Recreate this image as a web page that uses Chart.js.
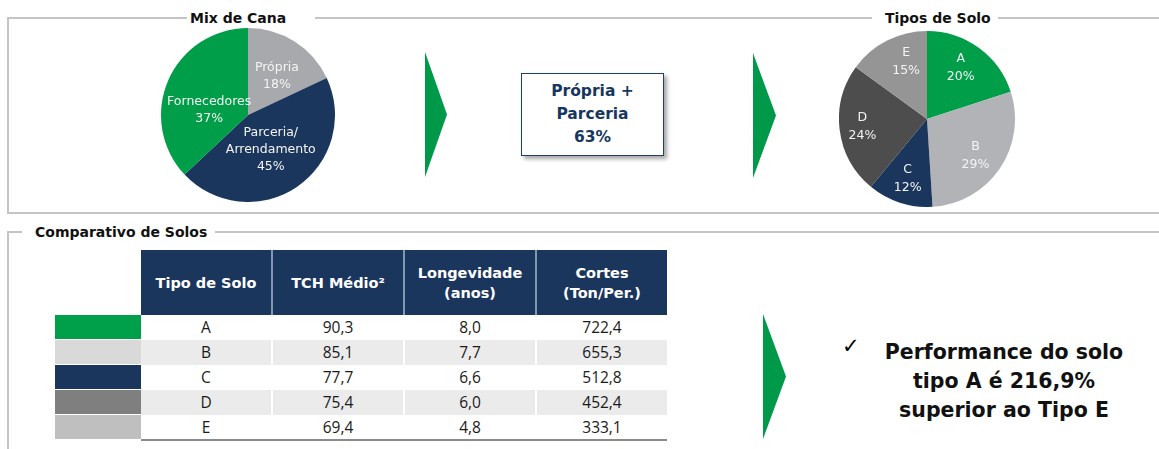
<!DOCTYPE html>
<html>
<head>
<meta charset="utf-8">
<script src="https://cdn.jsdelivr.net/npm/chart.js@4.4.1/dist/chart.umd.min.js"></script>
<style>
  body { margin: 0; width: 1159px; height: 449px; background: #fff; position: relative; overflow: hidden; font-family: "DejaVu Sans", sans-serif; }
  .abs { position: absolute; }
  .panel { position: absolute; border-left: 2px solid #c4c4c4; border-top: 2px solid #c4c4c4; }
  .title { position: absolute; background: #fff; font-weight: bold; font-size: 14px; color: #111; height: 18px; line-height: 18px; }
  .arrow { position: absolute; background: #00994a; clip-path: polygon(0 0, 100% 50%, 0 100%); }
  table { border-collapse: collapse; }
  #tbl { position: absolute; left: 55px; top: 250px; }
  #tbl th { background: #1b365d; color: #fff; font-size: 14.5px; font-weight: bold; height: 65px; width: 130px; padding: 0; border-left: 2px solid #8497b0; line-height: 20px; }
  #tbl th.blank { background: #fff; width: 86px; border: none; }
  #tbl th.first { border-left: none; }
  #tbl td { height: 24px; padding: 0; text-align: center; font-family: "Open Sans", sans-serif; font-size: 15.5px; color: #1a1a1a; border-left: 2px solid #fff; line-height: 24px; }
  #tbl td.sw { border-left: none; border-bottom: 1px solid #fff; }
  #tbl td.c1 { border-left: none; }
  #tbl tr.alt td { background: #ebebeb; }
  #tbl tr:last-child td:not(.sw) { border-bottom: 2px solid #8a8a8a; }
</style>
</head>
<body>
<!-- top panel -->
<div class="panel" style="left:7px; top:17px; width:1160px; height:193px; border-bottom:2px solid #c4c4c4;"></div>
<div class="title" style="left:187px; top:9px; width:125px; padding-left:3px;">Mix de Cana</div>
<div class="title" style="left:872px; top:9px; width:113px; padding-left:13px;">Tipos de Solo</div>

<!-- bottom panel -->
<div class="panel" style="left:7px; top:231px; width:1160px; height:230px;"></div>
<div class="title" style="left:22px; top:223px; width:180px; padding-left:13px;">Comparativo de Solos</div>

<div class="abs" style="left:161px; top:28px; width:174px; height:174px;"><canvas id="mixChart"></canvas></div>
<div class="abs" style="left:839px; top:31px; width:176px; height:176px;"><canvas id="soloChart"></canvas></div>

<div class="arrow" style="left:425px; top:52px; width:22px; height:125px;"></div>
<div class="arrow" style="left:753px; top:53px; width:23px; height:125px;"></div>
<div class="arrow" style="left:763px; top:314px; width:23px; height:125px;"></div>

<div class="abs" style="left:521px; top:73px; width:141px; height:81px; border:1.5px solid #1f3f6e; box-shadow:3px 3px 4px rgba(0,0,0,0.35); display:flex; align-items:center; justify-content:center; text-align:center; color:#17375e; font-weight:bold; font-size:15.5px; line-height:23px;">Própria +<br>Parceria<br>63%</div>

<table id="tbl"></table>

<div class="abs" style="left:842px; top:334px; font-size:21px; color:#000;">✓</div>
<div class="abs" style="left:874px; top:338px; width:260px; text-align:center; font-weight:bold; font-size:20.5px; line-height:29px; color:#111;">Performance do solo<br>tipo A é 216,9%<br>superior ao Tipo E</div>

<script>
// Mix de Cana
const mixLabels = [['Própria'], ['Parceria/', 'Arrendamento'], ['Fornecedores']];
const mixValues = [18, 45, 37];
const mixColors = ['#a7a9ac', '#1b365d', '#009e49'];

// Tipos de Solo
const soloLabels = ['A', 'B', 'C', 'D', 'E'];
const soloShare = [20, 29, 12, 24, 15];
const soloColors = ['#009e49', '#b1b3b6', '#1b365d', '#4d4d4d', '#959595'];

// Comparativo de Solos
const tableHeaders = ['Tipo de Solo', 'TCH Médio²', 'Longevidade<br>(anos)', 'Cortes<br>(Ton/Per.)'];
const tchMedio = [90.3, 85.1, 77.7, 75.4, 69.4];
const longevidade = [8.0, 7.7, 6.6, 6.0, 4.8];
const cortes = [722.4, 655.3, 512.8, 452.4, 333.1];
const swatchColors = ['#00a04a', '#d9d9d9', '#1b365d', '#7f7f7f', '#bfbfbf'];

const fmt = v => v.toFixed(1).replace('.', ',');

// build table
const tbl = document.getElementById('tbl');
let html = '<tr><th class="blank"></th>' + tableHeaders.map((h, i) => '<th' + (i === 0 ? ' class="first"' : '') + '>' + h + '</th>').join('') + '</tr>';
soloLabels.forEach((s, i) => {
    html += '<tr' + (i % 2 === 1 ? ' class="alt"' : '') + '>' +
        '<td class="sw" style="background:' + swatchColors[i] + '"></td>' +
        '<td class="c1">' + s + '</td><td>' + fmt(tchMedio[i]) + '</td><td>' + fmt(longevidade[i]) + '</td><td>' + fmt(cortes[i]) + '</td></tr>';
});
tbl.innerHTML = html;

// draws the label + percent inside every slice
const sliceLabels = {
    id: 'sliceLabels',
    afterDatasetsDraw(chart, args, opts) {
        const ctx = chart.ctx;
        const meta = chart.getDatasetMeta(0);
        const values = chart.data.datasets[0].data;
        ctx.save();
        ctx.fillStyle = opts.color || '#fff';
        ctx.font = opts.font || '12px "DejaVu Sans"';
        ctx.textAlign = 'center';
        ctx.textBaseline = 'middle';
        meta.data.forEach((arc, i) => {
            const mid = (arc.startAngle + arc.endAngle) / 2 + (opts.angleShift ? opts.angleShift[i] : 0);
            const r = arc.outerRadius * (opts.radius ? opts.radius[i] : 0.6);
            const x = arc.x + Math.cos(mid) * r;
            const y = arc.y + Math.sin(mid) * r;
            let lab = chart.data.labels[i];
            const lines = (Array.isArray(lab) ? lab : [lab]).concat([values[i] + '%']);
            const lh = opts.lineHeight || 17;
            const y0 = y - (lines.length - 1) * lh / 2;
            lines.forEach((l, k) => ctx.fillText(l, x, y0 + k * lh));
        });
        ctx.restore();
    }
};

const baseOptions = {
    responsive: true,
    maintainAspectRatio: false,
    animation: false,
    layout: { padding: 0 },
    plugins: { legend: { display: false }, tooltip: { enabled: false } }
};

new Chart(document.getElementById('mixChart'), {
    type: 'pie',
    data: { labels: mixLabels, datasets: [{ data: mixValues, backgroundColor: mixColors, borderWidth: 0 }] },
    options: {
        ...baseOptions,
        plugins: {
            ...baseOptions.plugins,
            sliceLabels: { font: '12.5px "DejaVu Sans"', color: '#f4f4f4', radius: [0.56, 0.48, 0.45], angleShift: [0.07, 0.02, -0.28], lineHeight: 17 }
        }
    },
    plugins: [sliceLabels]
});

new Chart(document.getElementById('soloChart'), {
    type: 'pie',
    data: { labels: soloLabels, datasets: [{ data: soloShare, backgroundColor: soloColors, borderWidth: 0 }] },
    options: {
        ...baseOptions,
        plugins: {
            ...baseOptions.plugins,
            sliceLabels: { font: '12.5px "DejaVu Sans"', color: '#f4f4f4', radius: [0.7, 0.69, 0.71, 0.74, 0.69], angleShift: [-0.05, 0.05, 0, 0, 0.12], lineHeight: 18 }
        }
    },
    plugins: [sliceLabels]
});
</script>
</body>
</html>
